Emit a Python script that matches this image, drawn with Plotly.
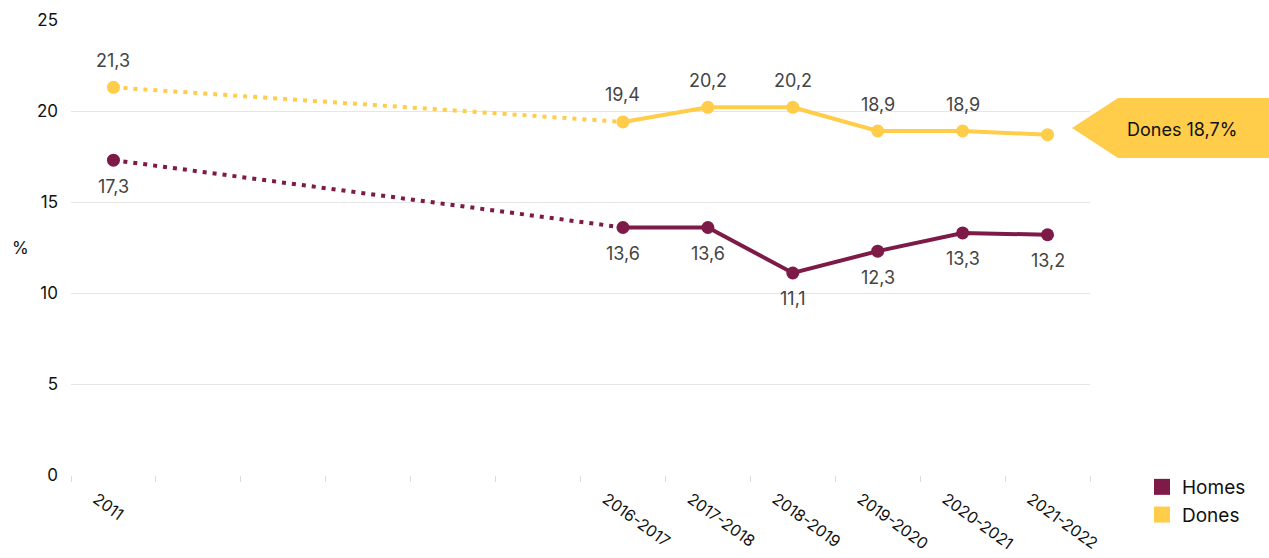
import plotly.graph_objects as go

# ---- data ----
periods = ["2011", "2016-2017", "2017-2018", "2018-2019", "2019-2020", "2020-2021", "2021-2022"]
gap_slots = 5  # empty category slots between 2011 and 2016-2017
homes = [17.3, 13.6, 13.6, 11.1, 12.3, 13.3, 13.2]
dones = [21.3, 19.4, 20.2, 20.2, 18.9, 18.9, 18.7]
series_names = ["Homes", "Dones"]
callout_text = "Dones 18,7%"
y_title = "%"

HOMES_C = "#7d1a47"
DONES_C = "#ffcd4a"
FONT = "Inter"

# axis slots: 2011, blanks, then the rest
slots = [periods[0]] + [None] * gap_slots + periods[1:]
pos = [slots.index(p) for p in periods]
n_slots = len(slots)
label_offset = 0.2  # shift angled tick labels slightly left of the slot centre

fig = go.Figure()

def add_series(vals, color, name, label_shift, label_skip_last=False):
    # dotted segment 2011 -> 2016-2017
    fig.add_trace(go.Scatter(x=pos[:2], y=vals[:2], mode="lines",
                             line=dict(color=color, width=4, dash="4px,6px"),
                             showlegend=False, hoverinfo="skip"))
    # solid segment from 2016-2017
    fig.add_trace(go.Scatter(x=pos[1:], y=vals[1:], mode="lines+markers",
                             line=dict(color=color, width=4),
                             marker=dict(color=color, size=13),
                             showlegend=False))
    fig.add_trace(go.Scatter(x=pos[:1], y=vals[:1], mode="markers",
                             marker=dict(color=color, size=13),
                             showlegend=False))
    for i, (x, v) in enumerate(zip(pos, vals)):
        if label_skip_last and i == len(vals) - 1:
            continue
        fig.add_annotation(x=x, y=v, text=f"{v:.1f}".replace(".", ","),
                           showarrow=False, yshift=label_shift,
                           font=dict(family=FONT, size=18, color="#444"))
    # legend entry
    fig.add_trace(go.Scatter(x=[None], y=[None], mode="markers", name=name,
                             marker=dict(color=color, size=20, symbol="square")))

add_series(homes, HOMES_C, series_names[0], -26)
add_series(dones, DONES_C, series_names[1], 27, label_skip_last=True)

# plot area at x 71..1090, y 20..475 of a 1269x558 page (body margin removed)
L, T, H, W = 71, 20, 455, 1019
FW, FH = 1269, 558
def px(x):
    return (x - L) / W
def py(y):
    return (T + H - y) / H

path = (f"M {px(1072)},{py(128)} L {px(1118)},{py(98)} L {px(1272)},{py(98)} "
        f"L {px(1272)},{py(158)} L {px(1118)},{py(158)} Z")
fig.add_shape(type="path", path=path, xref="paper", yref="paper",
              fillcolor=DONES_C, line=dict(width=0), layer="above")
fig.add_annotation(x=px(1182), y=py(129), xref="paper", yref="paper",
                   xanchor="center", yanchor="middle",
                   text=callout_text, showarrow=False,
                   font=dict(family=FONT, size=18, color="#111"))
fig.add_annotation(x=px(20), y=py(248), xref="paper", yref="paper",
                   xanchor="center", yanchor="middle",
                   text=y_title, showarrow=False,
                   font=dict(family=FONT, size=17, color="#111"))

fig.update_layout(
    width=FW, height=FH,
    margin=dict(l=L, r=FW - L - W, t=T, b=FH - T - H, autoexpand=False),
    plot_bgcolor="white", paper_bgcolor="white",
    font=dict(family=FONT, color="#111"),
    legend=dict(x=px(1142), y=py(468), xanchor="left", yanchor="top",
                font=dict(family=FONT, size=19, color="#111"),
                itemsizing="trace", tracegroupgap=0),
    xaxis=dict(range=[-0.5, n_slots - 0.5], tickmode="array",
               tickvals=[p - label_offset for p in pos], ticktext=periods,
               tickangle=36, automargin=False, ticklabelstandoff=11,
               ticks="", showgrid=False, zeroline=False,
               showline=False,
               tickfont=dict(family=FONT, size=16, color="#111"),
               minor=dict(tickmode="linear", tick0=-0.5, dtick=1,
                          ticks="outside", ticklen=6, tickcolor="#dcdcdc",
                          showgrid=False)),
    yaxis=dict(range=[0, 25], dtick=5, showgrid=True, gridcolor="#e6e6e6",
               zeroline=False, ticks="", ticklabelstandoff=12,
               automargin=False,
               tickfont=dict(family=FONT, size=17, color="#111")),
)

fig.write_html("out.html",
               config={"displayModeBar": False},
               post_script="document.body.style.margin='0';document.body.style.overflow='hidden';")
